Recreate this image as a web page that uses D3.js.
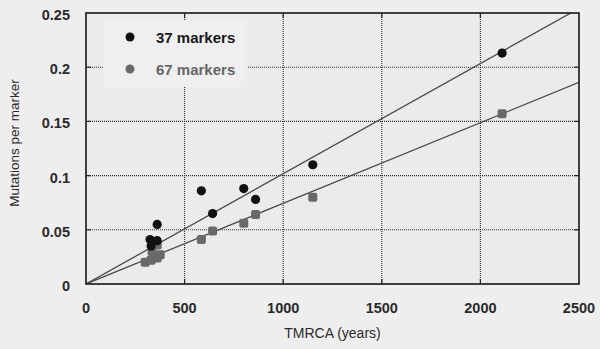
<!DOCTYPE html>
<html>
<head>
<meta charset="utf-8">
<script src="https://cdn.jsdelivr.net/npm/d3@7/dist/d3.min.js"></script>
<style>
  html, body { margin: 0; padding: 0; background: #eeeeee; }
  svg { display: block; }
  text { font-family: Arial, "Liberation Sans", sans-serif; }
</style>
</head>
<body>
<script>
// TMRCA (years) and mutations per marker, 37-marker haplotypes
const tmrca37 = [325, 330, 361, 361, 585, 642, 800, 860, 1150, 2110];
const mut37   = [0.041, 0.035, 0.040, 0.055, 0.086, 0.065, 0.088, 0.078, 0.110, 0.213];

// Same populations, 67-marker haplotypes
const tmrca67 = [300, 330, 335, 361, 361, 376, 585, 642, 800, 860, 1150, 2110];
const mut67   = [0.020, 0.022, 0.030, 0.024, 0.036, 0.027, 0.041, 0.049, 0.056, 0.064, 0.080, 0.157];

// Fitted rates (mutations per marker per year), lines through the origin
const fitSeries = ["37 markers", "67 markers"];
const fitSlopes = [0.0001017, 0.0000744];

const xTicks = [0, 500, 1000, 1500, 2000, 2500];
const yTicks = [0, 0.05, 0.1, 0.15, 0.2, 0.25];
const yTickLabels = ["0", "0.05", "0.1", "0.15", "0.2", "0.25"];

const W = 600, H = 349;
const m = { left: 86, right: 21, top: 13, bottom: 65 };
const iw = W - m.left - m.right, ih = H - m.top - m.bottom;

const svg = d3.select("body").append("svg").attr("width", W).attr("height", H);
svg.append("rect").attr("width", W).attr("height", H).attr("fill", "#eeeeee");

const x = d3.scaleLinear().domain([0, 2500]).range([0, iw]);
const y = d3.scaleLinear().domain([0, 0.25]).range([ih, 0]);

const g = svg.append("g").attr("transform", `translate(${m.left},${m.top})`);
g.append("rect").attr("width", iw).attr("height", ih).attr("fill", "#ebebeb");

g.append("clipPath").attr("id", "plot-clip")
  .append("rect").attr("width", iw).attr("height", ih);

// dotted grid
const grid = g.append("g").attr("stroke", "#2a2a2a").attr("stroke-width", 1.1)
  .attr("stroke-dasharray", "1,1");
grid.selectAll("line.vx").data(xTicks.slice(1, -1)).join("line")
  .attr("x1", d => x(d)).attr("x2", d => x(d)).attr("y1", 0).attr("y2", ih);
grid.selectAll("line.hy").data(yTicks.slice(1, -1)).join("line")
  .attr("y1", d => y(d)).attr("y2", d => y(d)).attr("x1", 0).attr("x2", iw);

// legend panel sits above the grid
const legend = g.append("g");
legend.append("rect").attr("x", 17).attr("y", 8).attr("width", 144).attr("height", 66)
  .attr("fill", "#efefef");

// regression lines
const lines = g.append("g").attr("clip-path", "url(#plot-clip)");
lines.selectAll("line").data(fitSlopes).join("line")
  .attr("x1", x(0)).attr("y1", y(0))
  .attr("x2", x(2500)).attr("y2", d => y(d * 2500))
  .attr("stroke", "#4a4a4a").attr("stroke-width", 1.3);

// 67-marker points (grey rounded squares)
g.append("g").selectAll("rect").data(tmrca67.map((t, i) => [t, mut67[i]])).join("rect")
  .attr("x", d => x(d[0]) - 4.5).attr("y", d => y(d[1]) - 4.5)
  .attr("width", 9).attr("height", 9).attr("rx", 2)
  .attr("fill", "#696969");

// 37-marker points (black circles)
g.append("g").selectAll("circle").data(tmrca37.map((t, i) => [t, mut37[i]])).join("circle")
  .attr("cx", d => x(d[0])).attr("cy", d => y(d[1])).attr("r", 4.6)
  .attr("fill", "#111");

// frame
g.append("rect").attr("width", iw).attr("height", ih)
  .attr("fill", "none").attr("stroke", "#222").attr("stroke-width", 1.7);

// inward tick marks
const ticks = g.append("g").attr("stroke", "#222").attr("stroke-width", 1.2);
ticks.selectAll("line.l").data(yTicks.slice(1, -1)).join("line")
  .attr("x1", 0).attr("x2", 5).attr("y1", d => y(d)).attr("y2", d => y(d));
ticks.selectAll("line.r").data(yTicks.slice(1, -1)).join("line")
  .attr("x1", iw - 5).attr("x2", iw).attr("y1", d => y(d)).attr("y2", d => y(d));
ticks.selectAll("line.b").data(xTicks.slice(1, -1)).join("line")
  .attr("x1", d => x(d)).attr("x2", d => x(d)).attr("y1", ih - 5).attr("y2", ih);
ticks.selectAll("line.t").data(xTicks.slice(1, -1)).join("line")
  .attr("x1", d => x(d)).attr("x2", d => x(d)).attr("y1", 0).attr("y2", 5);

// tick labels
g.append("g").selectAll("text").data(xTicks).join("text")
  .attr("x", d => x(d)).attr("y", ih + 29)
  .attr("text-anchor", "middle").attr("font-size", 14.5).attr("font-weight", "bold")
  .attr("fill", "#2a2a2a")
  .text(d => d);
g.append("g").selectAll("text").data(yTicks).join("text")
  .attr("x", -16).attr("y", d => y(d) + 7)
  .attr("text-anchor", "end").attr("font-size", 14.5).attr("font-weight", "bold")
  .attr("fill", "#2a2a2a")
  .text((d, i) => yTickLabels[i]);

// axis titles
svg.append("text").attr("x", m.left + iw / 2).attr("y", 338)
  .attr("text-anchor", "middle").attr("font-size", 14).attr("fill", "#2a2a2a")
  .text("TMRCA (years)");
svg.append("text").attr("transform", "translate(19,143) rotate(-90)")
  .attr("text-anchor", "middle").attr("font-size", 13.5).attr("fill", "#2a2a2a")
  .text("Mutations per marker");

// legend entries
const legendColors = ["#111", "#696969"];
const entries = legend.selectAll("g.entry").data(fitSeries).join("g")
  .attr("transform", (d, i) => `translate(0,${24 + i * 32})`);
entries.append("circle").attr("cx", 44).attr("cy", 0).attr("r", 4.5)
  .attr("fill", (d, i) => legendColors[i]);
entries.append("text").attr("x", 70).attr("y", 5.5)
  .attr("font-size", 15).attr("font-weight", "bold")
  .attr("fill", (d, i) => i === 0 ? "#1a1a1a" : "#666")
  .text(d => d);
</script>
</body>
</html>
